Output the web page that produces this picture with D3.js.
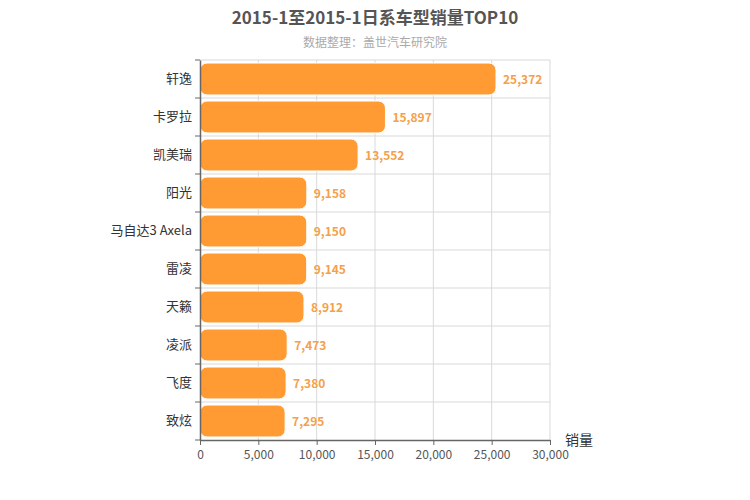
<!DOCTYPE html>
<html><head><meta charset="utf-8">
<script src="https://cdn.jsdelivr.net/npm/d3@7"></script>
<style>body{margin:0;background:#fff}text{font-family:"Microsoft YaHei","Noto Sans CJK SC",sans-serif}</style>
</head><body><svg id="c" width="750" height="500"></svg>
<script>
const categories=["轩逸","卡罗拉","凯美瑞","阳光","马自达3 Axela","雷凌","天籁","凌派","飞度","致炫"];
const values=[25372,15897,13552,9158,9150,9145,8912,7473,7380,7295];
const xTicks=[0,5000,10000,15000,20000,25000,30000];
const svg=d3.select("#c");
const L=200,R=550,T=60,B=440;
const x=d3.scaleLinear().domain([0,30000]).range([L,R]);
const y=d3.scaleBand().domain(categories).range([T,B]).paddingInner(0.16).paddingOuter(0.08);
const yb=d3.scaleBand().domain(categories).range([T,B]);
const g=svg.append("g");
// grid
g.selectAll(".vg").data(xTicks.slice(1)).join("line").attr("x1",d=>x(d)).attr("x2",d=>x(d)).attr("y1",T).attr("y2",B).attr("stroke","#d9d9d9");
const bounds=categories.map(c=>yb(c));
g.selectAll(".hg").data(bounds).join("line").attr("x1",L).attr("x2",R).attr("y1",d=>d).attr("y2",d=>d).attr("stroke","#d9d9d9");
// bars
g.selectAll(".bar").data(values).join("rect").attr("x",L).attr("y",(d,i)=>y(categories[i])).attr("width",d=>x(d)-L).attr("height",y.bandwidth()).attr("rx",7).attr("fill","#ff9b32").attr("stroke","#fff").attr("stroke-width",1);
g.selectAll(".lab").data(values).join("text").attr("x",d=>x(d)+7).attr("y",(d,i)=>y(categories[i])+y.bandwidth()/2+5).attr("fill","#f5a04a").attr("font-size",12).attr("font-weight","bold").text(d=>d3.format(",")(d));
// axes
const xa=svg.append("g").attr("transform",`translate(0,${B})`).call(d3.axisBottom(x).tickValues(xTicks).tickFormat(d3.format(",")).tickSize(5).tickSizeOuter(0));
xa.select(".domain").attr("stroke","#666").attr("stroke-width",1.5);
xa.selectAll(".tick line").attr("stroke","#666");
xa.selectAll("text").attr("fill","#555").attr("font-size",12).attr("dy","0.9em");
const ya=svg.append("g").attr("transform",`translate(${L},0)`).call(d3.axisLeft(yb).tickSize(0).tickPadding(8).tickSizeOuter(0));
ya.select(".domain").attr("stroke","#666").attr("stroke-width",1.5);
ya.selectAll("text").attr("fill","#333").attr("font-size",13);
svg.append("g").selectAll("line").data(bounds.concat([B])).join("line").attr("x1",L-5).attr("x2",L).attr("y1",d=>d).attr("y2",d=>d).attr("stroke","#666");
svg.append("text").attr("x",565).attr("y",445).attr("font-size",14).attr("fill","#333").text("销量");
svg.append("text").attr("x",375).attr("y",24).attr("text-anchor","middle").attr("font-size",17).attr("font-weight","bold").attr("fill","#555").text("2015-1至2015-1日系车型销量TOP10");
svg.append("text").attr("x",375).attr("y",47).attr("text-anchor","middle").attr("font-size",12).attr("fill","#aaa").text("数据整理：盖世汽车研究院");
</script></body></html>
